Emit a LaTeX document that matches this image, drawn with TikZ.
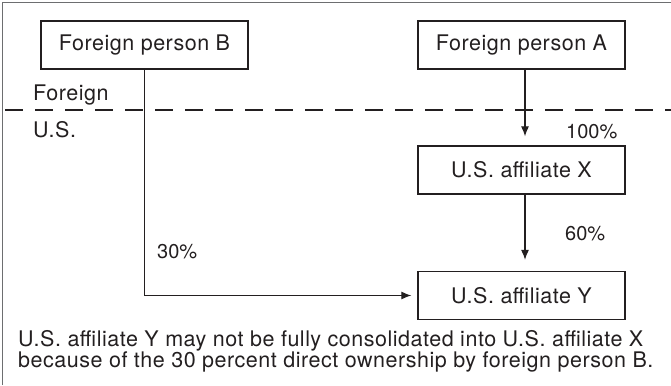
\documentclass[tikz,border=0pt]{standalone}
\usepackage{fontspec}
\setmainfont{TeX Gyre Heros}[LetterSpace=2.4]
\newfontfamily\pctfont{TeX Gyre Heros}
\usepackage{tikz}
\usetikzlibrary{
    arrows.meta,
    calc,
    positioning
}
\definecolor{ink}{HTML}{231F20}
\definecolor{framegray}{HTML}{6D6E70}

\begin{document}
\begin{tikzpicture}[x=1pt, y=-1pt,
    every node/.style={text=ink, font=\fontsize{21.5}{19}\selectfont},
    entity/.style={draw=ink, line width=1.3pt, minimum width=207pt, minimum height=48pt, inner sep=0pt},
    link/.style={draw=ink, line width=1.1pt, -{Latex[length=10pt, width=8pt]}},
    label/.style={anchor=base west, inner sep=0pt},
    pct/.style={label, font=\pctfont\fontsize{20}{20}\selectfont}]
                        \useasboundingbox (0, 0) rectangle (671, 385);
                        \draw[framegray, line width=1.4pt] (2.5, 385) -- (2.5, 2.5) -- (671, 2.5);

                        % border between foreign and U.S.
                        \draw[ink, line width=2.6pt, dash pattern=on 18pt off 12pt, dash phase=25pt] (0, 110) -- (671, 110);
                        \node[label] (foreignlbl) at (33, 100) {Foreign};
                        \node[label] (uslbl) at (33, 137) {U.S.};

                        \node[entity] (personB) at (144.5, 45) {Foreign person B};
                        \node[entity] (personA) at (521.5, 45) {Foreign person A};
                        \node[entity] (affX) at (521.5, 170) {U.S. affiliate X};
                        \node[entity] (affY) at (521.5, 295.5) {U.S. affiliate Y};

                        \draw[link, shorten >=9pt] ([xshift=3.5pt]personA.south) -- ([xshift=3.5pt]personA.south |- affX.north);
                        \draw[link, shorten >=11pt] ([xshift=3.5pt]affX.south) -- ([xshift=3.5pt]affX.south |- affY.north);
                        \draw[link, shorten >=6pt] (personB.south) |- (affY.west);

                        \node[pct] (pctA) at (566, 139) {100\%};
                        \node[pct] (pctX) at (565, 240) {60\%};
                        \node[pct] (pctB) at (157, 258) {30\%};

                        \node[label] (noteA) at (18, 346.5) {U.S. affiliate Y may not be fully consolidated into U.S. affiliate X};
                        \node[label] (noteB) at (18, 367.5) {because of the 30 percent direct ownership by foreign person B.};
                    \end{tikzpicture}
\end{document}
